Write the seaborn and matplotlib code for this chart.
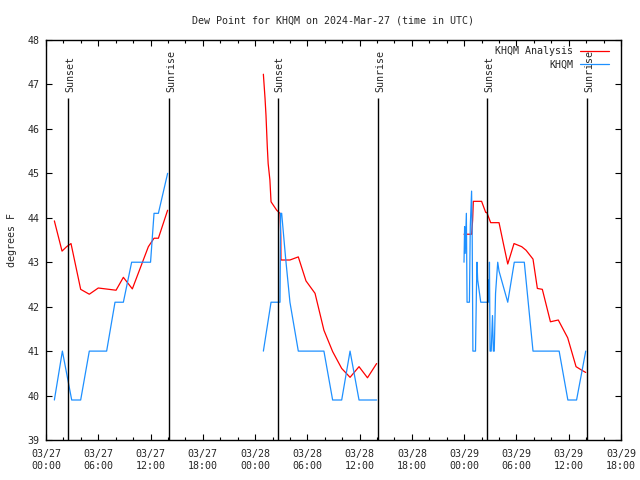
import seaborn as sns
import matplotlib.pyplot as plt
from matplotlib.ticker import MultipleLocator
import pandas as pd


# data: hours since 03/27 00:00 UTC, dew point in F
an_t1 = [0.96, 1.84, 2.37, 2.87, 3.98, 4.97, 6.0, 8.04, 8.88, 9.91, 11.75, 12.4, 12.9, 13.96]
an_v1 = [43.93, 43.25, 43.35, 43.42, 42.39, 42.28, 42.42, 42.37, 42.66, 42.40, 43.35, 43.54, 43.54, 44.17]

an_t2 = [24.95, 25.14, 25.25, 25.4, 25.5, 25.7, 25.83, 26.48, 26.86, 26.95, 26.97, 28.0, 28.96,
         29.84, 30.88, 31.9, 32.9, 33.94, 34.9, 35.93, 36.9, 37.95]
an_v2 = [47.23, 46.69, 46.31, 45.6, 45.22, 44.85, 44.36, 44.17, 44.1, 43.57, 43.05, 43.05, 43.12,
         42.58, 42.30, 41.47, 40.99, 40.61, 40.41, 40.65, 40.40, 40.72]

an_t3 = [47.98, 48.86, 48.97, 49.05, 50.0, 50.47, 50.6, 51.04, 52.0, 52.5, 53.0, 53.72, 54.6,
         55.1, 55.9, 56.4, 56.97, 57.9, 58.8, 59.88, 60.84, 61.5, 61.95]
an_v3 = [43.63, 43.63, 43.95, 44.37, 44.37, 44.12, 44.12, 43.89, 43.89, 43.42, 42.96, 43.42, 43.35,
         43.27, 43.07, 42.41, 42.39, 41.66, 41.70, 41.30, 40.65, 40.57, 40.52]

ob_t1 = [0.96, 1.88, 2.95, 3.98, 4.97, 6.96, 7.92, 8.88, 9.83, 12.0, 12.4, 12.9, 13.96]
ob_v1 = [39.9, 41.0, 39.9, 39.9, 41.0, 41.0, 42.1, 42.1, 43.0, 43.0, 44.1, 44.1, 45.0]

ob_t2 = [24.95, 25.83, 26.86, 26.93, 27.05, 27.5, 28.0, 28.96, 31.9, 32.9, 33.94, 34.9, 35.93, 37.95]
ob_v2 = [41.0, 42.1, 42.1, 44.1, 44.1, 43.1, 42.1, 41.0, 41.0, 39.9, 39.9, 41.0, 39.9, 39.9]

ob_t3 = [47.98, 48.05, 48.12, 48.25, 48.33, 48.6, 48.7, 48.85, 48.92, 49.0, 49.3, 49.4, 49.47,
         49.55, 49.9, 50.7, 50.8, 50.85, 50.9, 50.97, 51.1, 51.25, 51.35, 51.45, 51.6, 51.85,
         52.0, 53.0, 53.75, 54.9, 55.9, 58.9, 59.9, 60.9, 61.95]
ob_v3 = [43.0, 43.8, 43.2, 44.1, 42.1, 42.1, 43.8, 44.6, 43.6, 41.0, 41.0, 42.3, 43.0,
         42.6, 42.1, 42.1, 42.6, 42.1, 43.0, 41.0, 41.0, 41.8, 41.0, 41.0, 42.3, 43.0,
         42.8, 42.1, 43.0, 43.0, 41.0, 41.0, 39.9, 39.9, 41.0]

sunsets = [2.56, 26.58, 50.62]
sunrises = [14.15, 38.13, 62.08]

tick_hours = [0, 6, 12, 18, 24, 30, 36, 42, 48, 54, 60, 66]
tick_labels = ['03/27\n00:00', '03/27\n06:00', '03/27\n12:00', '03/27\n18:00',
               '03/28\n00:00', '03/28\n06:00', '03/28\n12:00', '03/28\n18:00',
               '03/29\n00:00', '03/29\n06:00', '03/29\n12:00', '03/29\n18:00']


sns.set_theme(style='white')
plt.rcParams['font.family'] = ['DejaVu Sans Mono']
fs = 7.2

fig = plt.figure(figsize=(6.4, 4.8), dpi=100)
ax = fig.add_axes([46 / 640, 40 / 480, 575 / 640, 400 / 480])

red = '#ff0000'
blue = '#1e90ff'

# analysis (red)
for i, (t, v) in enumerate([(an_t1, an_v1), (an_t2, an_v2), (an_t3, an_v3)]):
    sns.lineplot(x=t, y=v, sort=False, color=red, lw=0.9, ax=ax,
                 label='KHQM Analysis' if i == 0 else None)

# observations (blue)
for i, (t, v) in enumerate([(ob_t1, ob_v1), (ob_t2, ob_v2), (ob_t3, ob_v3)]):
    sns.lineplot(x=t, y=v, sort=False, color=blue, lw=0.9, ax=ax,
                 label='KHQM' if i == 0 else None)

# sunset / sunrise markers
ax.vlines(sunsets + sunrises, 39, 46.7, color='black', lw=1.0)
for s in sunsets:
    ax.text(s + 0.25, 46.83, 'Sunset', rotation=90, ha='center', va='bottom', fontsize=fs)
for s in sunrises:
    ax.text(s + 0.25, 46.83, 'Sunrise', rotation=90, ha='center', va='bottom', fontsize=fs)

ax.set_xlim(0, 66)
ax.set_ylim(39, 48)
ax.set_xticks(tick_hours)
ax.set_xticklabels(tick_labels, fontsize=fs)
ax.xaxis.set_minor_locator(MultipleLocator(2))
ax.yaxis.set_major_locator(MultipleLocator(1))
ax.tick_params(axis='y', labelsize=fs)
ax.tick_params(which='major', direction='in', length=4.3, width=0.8, top=True, right=True,
               bottom=True, left=True, color='black', pad=4.5)
ax.tick_params(axis='x', which='major', pad=6.5)
ax.tick_params(which='minor', direction='in', length=2.2, width=0.8, top=True, bottom=True,
               color='black')
for sp in ax.spines.values():
    sp.set_color('black')
    sp.set_linewidth(1.0)

ax.set_title('Dew Point for KHQM on 2024-Mar-27 (time in UTC)', fontsize=fs, pad=12)
ax.set_ylabel('degrees F', fontsize=fs, labelpad=8)
ax.set_xlabel('')

ax.legend(loc='upper right', bbox_to_anchor=(0.979, 0.984), frameon=False, markerfirst=False,
          fontsize=fs, handlelength=2.9, handletextpad=0.7, borderaxespad=0, borderpad=0,
          labelspacing=0.3)

plt.savefig('out.png', dpi=100)
